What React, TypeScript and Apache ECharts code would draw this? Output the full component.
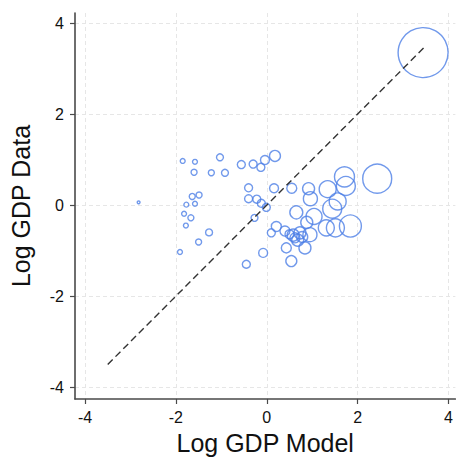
import React, { useEffect, useRef } from 'react';
import * as echarts from 'echarts';

// Log GDP predicted by the model (x) vs. log GDP in the data (y), bubble weight
const modelX = [
  -2.82, -1.85, -1.58, -1.60, -1.03, -1.22, -0.92, -1.49, -1.64, -1.77,
  -1.58, -1.82, -1.67, -1.78, -1.27, -1.50, -1.91, -0.56, -0.30, -0.13,
  -0.04, 0.18, -0.40, 0.16, -0.40, -0.22, -0.12, -0.01, -0.27, 0.55,
  0.65, 0.92, 0.96, 0.21, 0.40, 0.58, 0.73, 0.68, 0.10, 0.43,
  0.84, -0.08, -0.45, 0.54, 1.71, 1.74, 1.34, 1.44, 1.56, 1.04,
  0.95, 1.84, 1.51, 1.31, 2.43, 3.44, 0.88, 0.62, 0.50, 0.78,
];
const dataY = [
  0.06, 0.97, 0.95, 0.72, 1.05, 0.71, 0.71, 0.22, 0.19, 0.01,
  0.03, -0.19, -0.28, -0.45, -0.60, -0.81, -1.03, 0.89, 0.90, 0.83,
  0.99, 1.08, 0.38, 0.37, 0.14, 0.13, 0.04, -0.05, -0.28, 0.37,
  -0.16, 0.36, 0.14, -0.47, -0.57, -0.66, -0.61, -0.77, -0.61, -0.94,
  -0.94, -1.05, -1.30, -1.23, 0.62, 0.42, 0.35, -0.08, 0.08, -0.25,
  -0.65, -0.46, -0.50, -0.50, 0.58, 3.35, -0.38, -0.72, -0.64, -0.70,
];
const weights = [
  2, 6, 6, 9, 12, 9, 12, 9, 9, 6,
  6, 6, 9, 6, 12, 9, 6, 16, 16, 16,
  20, 30, 16, 20, 16, 16, 16, 16, 12, 25,
  42, 36, 49, 25, 25, 36, 36, 36, 16, 25,
  36, 20, 16, 30, 100, 90, 72, 90, 72, 64,
  49, 121, 81, 64, 210, 625, 36, 25, 20, 30,
];
const tickValues = [-4, -2, 0, 2, 4];
const fitEnds = [-3.5, 3.5];

const FONT = 'Liberation Sans, Arial, Helvetica, sans-serif';

export default function App() {
  const ref = useRef<HTMLDivElement>(null);
  useEffect(() => {
    const chart = echarts.init(ref.current!, null, { renderer: 'svg' });
    const points = modelX.map((x, i) => [x, dataY[i], weights[i]]);
    const axisCommon = {
      type: 'value',
      nameLocation: 'middle',
      nameTextStyle: { fontSize: 25, color: '#111', fontFamily: FONT },
      axisLine: { show: true, onZero: false, lineStyle: { color: '#4a4a4a', width: 1.6 } },
      axisTick: { show: true, length: 5, customValues: tickValues, lineStyle: { color: '#4a4a4a', width: 1.2 } },
      axisLabel: { customValues: tickValues, fontSize: 16, color: '#111', fontFamily: FONT },
      splitLine: { show: true, lineStyle: { color: '#e6e6e6', type: [4, 3], width: 1 } },
    };
    chart.setOption({
      animation: false,
      backgroundColor: '#fff',
      grid: { left: 75, top: 13, width: 381, height: 389, containLabel: false },
      xAxis: {
        ...axisCommon,
        name: 'Log GDP Model',
        nameGap: 31,
        min: -4.22,
        max: 4.15,
        axisLabel: { ...axisCommon.axisLabel, margin: 10 },
      },
      yAxis: {
        ...axisCommon,
        name: 'Log GDP Data',
        nameGap: 42,
        min: -4.26,
        max: 4.22,
        axisLabel: { ...axisCommon.axisLabel, margin: 11 },
      },
      series: [
        {
          type: 'line',
          data: fitEnds.map((v) => [v, v]),
          symbol: 'none',
          silent: true,
          lineStyle: { color: '#333', width: 1.4, type: [7, 4] },
          z: 3,
        },
        {
          type: 'scatter',
          data: points,
          symbol: 'circle',
          symbolSize: (v: number[]) => 2 * Math.sqrt(v[2]),
          itemStyle: { color: 'rgba(0,0,0,0)', borderColor: '#4d7fe6', borderWidth: 1.4 },
          z: 2,
        },
      ],
    });
    return () => chart.dispose();
  }, []);
  return (
    <div
      ref={ref}
      style={{ position: 'fixed', left: 0, top: 0, width: 456, height: 460 }}
    />
  );
}
